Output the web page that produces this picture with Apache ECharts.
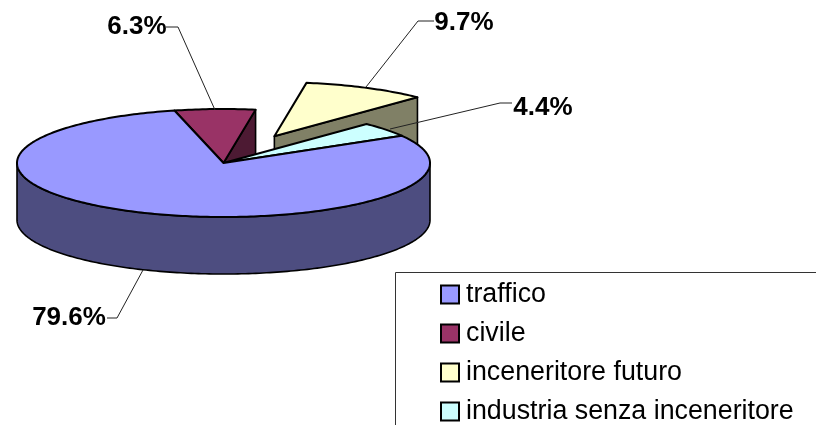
<!DOCTYPE html>
<html>
<head>
<meta charset="utf-8">
<style>
  html, body { margin: 0; padding: 0; background: #fff; }
  #main { width: 816px; height: 425px; }
</style>
<script src="https://cdn.jsdelivr.net/npm/echarts@6/dist/echarts.min.js"></script>
</head>
<body>
<div id="main"></div>
<script>
const categories = ['traffico', 'civile', 'inceneritore futuro', 'industria senza inceneritore'];
const shares = [79.6, 6.3, 9.7, 4.4];
const topColors = ['#9999ff', '#993366', '#ffffcc', '#ccffff'];
const wallColors = ['#4d4d80', '#4d1a33', '#808066', '#668080'];

// pie shape
const cx = 223.5, cy = 163, rx = 206.5, ry = 54, depth = 57;
const firstAngle = 59.7;   // degrees clockwise from north where traffico starts
const explode = [0, 0, 0.554, 0];  // only the yellow slice is pulled out

// label text box and leader line, per category
const labelAt = [[69, 318], [137, 27], [464, 23], [543, 108]];
const leaders = [
  [[107, 318], [117, 318], [143, 270]],
  [[166, 27], [178, 27], [215, 110]],
  [[434, 21], [418, 21], [366, 87]],
  [[512, 103], [500, 103], [390, 129]]
];

const total = shares.reduce((a, b) => a + b, 0);

function sliceAngles(i) {
  let start = firstAngle;
  for (let k = 0; k < i; k++) start += shares[k] / total * 360;
  return [start, start + shares[i] / total * 360];
}

function rim(deg, ox, oy, drop) {
  const r = deg * Math.PI / 180;
  return [cx + ox + rx * Math.sin(r), cy + oy - ry * Math.cos(r) + (drop || 0)];
}

function arcPoints(a, b, ox, oy, drop) {
  const pts = [];
  const n = Math.ceil(Math.abs(b - a));
  for (let k = 0; k <= n; k++) pts.push(rim(a + (b - a) * k / n, ox, oy, drop));
  return pts;
}

function poly(points, fill, width) {
  return {
    type: 'polygon',
    shape: { points: points },
    style: { fill: fill, stroke: '#000', lineWidth: width, lineJoin: 'round' }
  };
}

function renderSlice(params, api) {
  const i = api.value(0);
  const [a, b] = sliceAngles(i);
  const mid = (a + b) / 2 * Math.PI / 180;
  const ox = explode[i] * rx * Math.sin(mid);
  const oy = -explode[i] * ry * Math.cos(mid);
  const apex = [cx + ox, cy + oy];
  const children = [];

  // front wall, only the part of the rim that faces us
  const wallFrom = Math.max(a, 90), wallTo = Math.min(b, 270);
  if (wallTo > wallFrom) {
    const upper = arcPoints(wallFrom, wallTo, ox, oy, 0);
    const lower = arcPoints(wallTo, wallFrom, ox, oy, depth);
    children.push(poly(upper.concat(lower), wallColors[i], 1.6));
  }
  // cut faces that can be seen from the front
  if (i === 1 || i === 2) {
    const p = rim(b, ox, oy, 0);
    children.push(poly([apex, p, [p[0], p[1] + depth], [apex[0], apex[1] + depth]], wallColors[i], 1.6));
  }
  // top surface
  children.push(poly([apex].concat(arcPoints(a, b, ox, oy, 0)), topColors[i], 2));

  // leader line and percentage
  children.push({
    type: 'polyline',
    shape: { points: leaders[i] },
    style: { fill: null, stroke: '#222', lineWidth: 1 }
  });
  children.push({
    type: 'text',
    style: {
      x: labelAt[i][0], y: labelAt[i][1],
      text: shares[i].toFixed(1) + '%',
      fill: '#000',
      font: 'bold 26px "Liberation Sans", Arial, sans-serif',
      align: 'center', verticalAlign: 'middle'
    }
  });
  return { type: 'group', children: children };
}

// painter's order: back pieces first, traffico's big top last
const drawOrder = [2, 1, 3, 0];

const myChart = echarts.init(document.getElementById('main'), null, { renderer: 'canvas' });
myChart.setOption({
  animation: false,
  backgroundColor: '#fff',
  graphic: [{
    type: 'rect',
    silent: true,
    shape: { x: 395.5, y: 272.5, width: 500, height: 200 },
    style: { fill: null, stroke: '#333', lineWidth: 1 }
  }],
  legend: {
    orient: 'vertical',
    left: 440,
    top: 281,
    padding: 0,
    icon: 'rect',
    itemWidth: 18,
    itemHeight: 18,
    itemGap: 12,
    data: categories,
    itemStyle: { borderColor: '#000', borderWidth: 2 },
    textStyle: { color: '#000', fontSize: 26.8, fontFamily: '"Liberation Sans", Arial, sans-serif', padding: [0, 0, 0, 2] }
  },
  series: drawOrder.map(function (i) {
    return {
      type: 'custom',
      name: categories[i],
      coordinateSystem: 'none',
      silent: true,
      itemStyle: { color: topColors[i] },
      renderItem: renderSlice,
      data: [[i]]
    };
  })
});
</script>
</body>
</html>
